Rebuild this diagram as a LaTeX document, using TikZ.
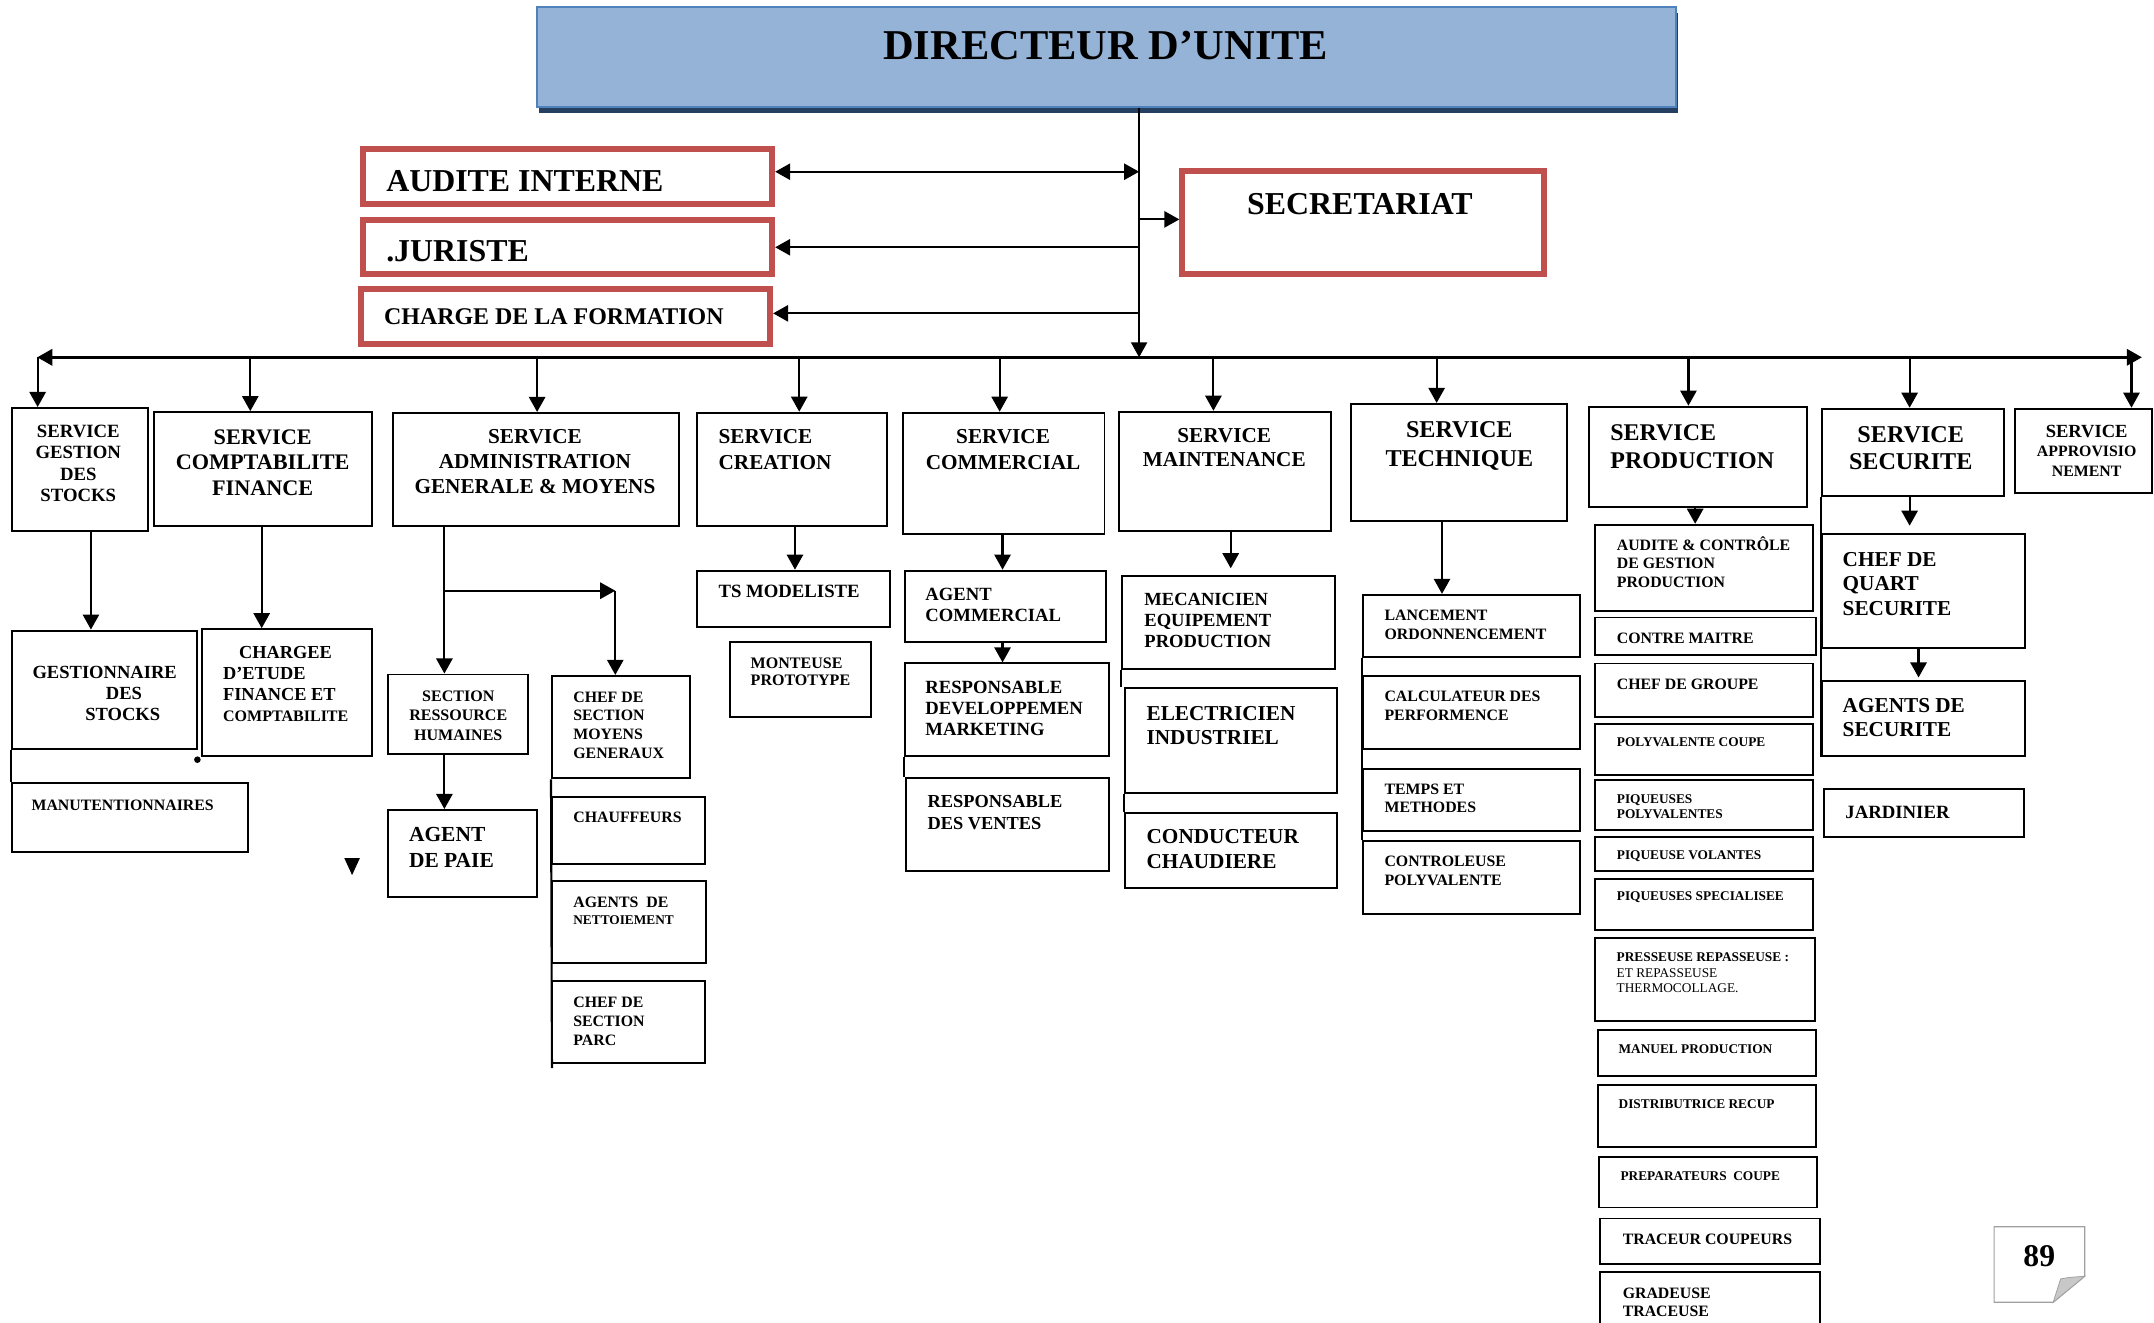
\documentclass[tikz,border=0pt]{standalone}
\usepackage{fontspec}
\setmainfont{Liberation Serif}
\usetikzlibrary{arrows.meta,fit,shadows}
\definecolor{dirblue}{HTML}{95B3D7}
\definecolor{dirline}{HTML}{4F81BD}
\definecolor{dirshade}{HTML}{243F60}
\definecolor{boxred}{HTML}{C0504D}
\definecolor{pagegray}{HTML}{A0A0A0}
\definecolor{foldgray}{HTML}{C8C8C8}

\begin{document}
\begin{tikzpicture}[x=0.025cm, y=-0.025cm,
		box/.style={draw, line width=1pt, inner sep=0pt, fit={#1}},
		redbox/.style={draw=boxred, line width=3.1pt, inner sep=0pt, fit={#1}},
		dirbox/.style={draw=dirline, fill=dirblue, line width=1pt, inner sep=0pt, fit={#1},
			drop shadow={shadow xshift=1.1pt, shadow yshift=-3pt, fill=dirshade, opacity=1}},
		nw/.style={anchor=north west, align=left},
		nn/.style={anchor=north, align=center},
		ww/.style={anchor=west},
		fs/.style 2 args={font=\bfseries\fontsize{#1}{#2}\selectfont},
		ln/.style={line width=1.1pt},
		arr/.style={line width=1.1pt},
		bus/.style={line width=1.4pt},
		>={Triangle[length=7.8pt,width=8.4pt]}]
		\tikzstyle{every node}+=[inner sep=0pt]
		\useasboundingbox (0,0) rectangle (1568,963);
		\node[dirbox={(390.7,5.3) (1220,77.7)}] (dir) {};
		\node[fs={22}{26}] (dir-t) at (805,33.5) {DIRECTEUR D’UNITE};
		\node[redbox={(264.2,108.2) (562.1,148.3)}] (audint) {};
		\node[ww, fs={16.5}{19}] (audint-t) at (280.9,132) {AUDITE INTERNE};
		\node[redbox={(264.2,159.9) (562.1,199.2)}] (jur) {};
		\node[ww, fs={16.5}{19}] (jur-t) at (280.9,183) {.JURISTE};
		\node[redbox={(262.6,210.4) (560.6,250.2)}] (form) {};
		\node[ww, fs={12.4}{15}] (form-t) at (279.3,230.5) {CHARGE DE LA FORMATION};
		\node[redbox={(860.7,124.7) (1124,199.2)}] (secr) {};
		\node[fs={16.5}{19}] (secr-t) at (990,148.5) {SECRETARIAT};
		\node[box={(8.4,297) (107.6,386.5)}] (sgs) {};
		\node[nn, fs={9.7}{11.1}] (sgs-t) at (57,309) {SERVICE\\GESTION\\DES\\STOCKS};
		\node[box={(112,300) (271,383)}] (scf) {};
		\node[nn, fs={11.5}{13.1}] (scf-t) at (191.2,312.7) {SERVICE\\COMPTABILITE\\FINANCE};
		\node[box={(286,300.6) (494,383)}] (sagm) {};
		\node[nn, fs={11}{12.9}] (sagm-t) at (389.4,312.2) {SERVICE\\ADMINISTRATION\\GENERALE \& MOYENS};
		\node[box={(507.6,300.4) (646,382.7)}] (screa) {};
		\node[nw, fs={11}{13.4}] (screa-t) at (522.8,312.2) {SERVICE\\CREATION};
		\node[box={(657,300.4) (804,389)}] (scom) {};
		\node[nn, fs={11}{13.4}] (scom-t) at (730.2,312.2) {SERVICE\\COMMERCIAL};
		\node[box={(814.5,299.7) (968.6,386.3)}] (smai) {};
		\node[nn, fs={11}{12.8}] (smai-t) at (891.2,311.4) {SERVICE\\MAINTENANCE};
		\node[box={(983.5,294) (1141,379)}] (stech) {};
		\node[nn, fs={12.5}{14.9}] (stech-t) at (1062.3,306.6) {SERVICE\\TECHNIQUE};
		\node[box={(1157,296) (1315.5,369)}] (sprod) {};
		\node[nw, fs={12.4}{14.4}] (sprod-t) at (1172,308.9) {SERVICE\\PRODUCTION};
		\node[box={(1326,297.5) (1459,361)}] (ssec) {};
		\node[nn, fs={12.5}{14.2}] (ssec-t) at (1390.9,310.2) {SERVICE\\SECURITE};
		\node[box={(1466.6,297.5) (1566.5,359)}] (sappro) {};
		\node[nn, fs={8.2}{10.2}] (sappro-t) at (1519,308.9) {{\fontsize{9.6}{10.2}\selectfont SERVICE}\\APPROVISIO\\NEMENT};
		\node[box={(8.4,459) (143.6,545)}] (gest) {};
		\node[nw, fs={9.6}{10.9}] (gest-t) at (23.4,484.9) {GESTIONNAIRE\\\hspace*{38pt}DES\\\hspace*{27.3pt}STOCKS};
		\node[box={(147,458) (271,550)}] (chg) {};
		\node[nw, fs={9.5}{10.8}] (chg-t) at (162.1,470.2) {\hspace*{8.3pt}CHARGEE\\D’ETUDE\\FINANCE ET\\{\fontsize{8.3}{10.8}\selectfont COMPTABILITE}};
		\node[box={(8.4,570) (180.5,620)}] (manut) {};
		\node[ww, fs={8.2}{9.8}] (manut-t) at (22.7,586) {MANUTENTIONNAIRES};
		\node[circle, fill, minimum size=0.12cm] (dot) at (143.7,553) {};
		\node[box={(282.4,491) (384.3,549)}] (srh) {};
		\node[nn, fs={8.3}{9.95}] (srh-t) at (333.6,502.7) {SECTION\\RESSOURCE\\HUMAINES};
		\node[box={(282.4,589.6) (391,653.2)}] (paie) {};
		\node[nw, fs={11.1}{13.2}] (paie-t) at (297.5,602.1) {AGENT\\DE PAIE};
		\node[box={(401.8,492) (502,566.6)}] (csmg) {};
		\node[nw, fs={8.2}{9.8}] (csmg-t) at (417.1,503.1) {CHEF DE\\SECTION\\MOYENS\\GENERAUX};
		\node[box={(401.8,580) (513,629)}] (chauf) {};
		\node[ww, fs={8.2}{9.8}] (chauf-t) at (417.1,595.1) {CHAUFFEURS};
		\node[box={(401.8,641) (514,700.8)}] (nett) {};
		\node[nw, fs={8.2}{8.9}] (nett-t) at (417.1,652.9) {AGENTS~~DE\\{\fontsize{6.9}{8.9}\selectfont NETTOIEMENT}};
		\node[box={(401.8,714) (513,774)}] (parc) {};
		\node[nw, fs={8.2}{9.7}] (parc-t) at (417.1,725.7) {CHEF DE\\SECTION\\PARC};
		\node[box={(507.6,415.4) (648,456.2)}] (tsmod) {};
		\node[ww, fs={9.7}{11}] (tsmod-t) at (522.8,430.7) {TS MODELISTE};
		\node[box={(531.3,467) (634,522)}] (mont) {};
		\node[nw, fs={8.3}{9.1}] (mont-t) at (546.2,478.5) {MONTEUSE\\PROTOTYPE};
		\node[box={(658.5,415.4) (805.4,467.6)}] (agcom) {};
		\node[nw, fs={9.65}{11.1}] (agcom-t) at (673.4,427.5) {AGENT\\COMMERCIAL};
		\node[box={(658.5,482.9) (807,550.1)}] (rdev) {};
		\node[nw, fs={9.65}{11.1}] (rdev-t) at (673.4,495.2) {RESPONSABLE\\DEVELOPPEMEN\\MARKETING};
		\node[box={(659.8,566.6) (807,634)}] (rvent) {};
		\node[nw, fs={9.5}{11.2}] (rvent-t) at (675,578.9) {RESPONSABLE\\DES VENTES};
		\node[box={(817,419.3) (971.7,486.8)}] (meca) {};
		\node[nw, fs={9.6}{10.8}] (meca-t) at (832.8,431.8) {MECANICIEN\\EQUIPEMENT\\PRODUCTION};
		\node[box={(818.6,501) (973.3,577.5)}] (elec) {};
		\node[nw, fs={11}{12.6}] (elec-t) at (834.4,513.8) {ELECTRICIEN\\INDUSTRIEL};
		\node[box={(818.6,591.6) (973.3,646.6)}] (cond) {};
		\node[nw, fs={11}{12.7}] (cond-t) at (834.4,603.7) {CONDUCTEUR\\CHAUDIERE};
		\node[box={(992,433) (1150,478)}] (lanc) {};
		\node[nw, fs={8.2}{9.8}] (lanc-t) at (1007.6,443.8) {LANCEMENT\\ORDONNENCEMENT};
		\node[box={(992,492) (1150,545)}] (calc) {};
		\node[nw, fs={8.2}{9.8}] (calc-t) at (1007.6,502.8) {CALCULATEUR DES\\PERFORMENCE};
		\node[box={(992,559.5) (1150,604.7)}] (temps) {};
		\node[nw, fs={8.2}{9.6}] (temps-t) at (1007.6,570.1) {TEMPS ET\\METHODES};
		\node[box={(992,612) (1150,665)}] (ctrl) {};
		\node[nw, fs={8.2}{9.7}] (ctrl-t) at (1007.6,623.2) {CONTROLEUSE\\POLYVALENTE};
		\node[box={(1161,382) (1320,445)}] (audc) {};
		\node[nw, fs={8.2}{9.45}] (audc-t) at (1176.7,390.5) {AUDITE \& CONTRÔLE\\DE GESTION\\PRODUCTION};
		\node[box={(1161,449.5) (1322,477)}] (cmai) {};
		\node[ww, fs={8.2}{9.8}] (cmai-t) at (1176.7,464.5) {CONTRE MAITRE};
		\node[box={(1161,483) (1320,522)}] (cgrp) {};
		\node[ww, fs={8.2}{9.8}] (cgrp-t) at (1176.7,497.8) {CHEF DE GROUPE};
		\node[box={(1161,527) (1320,564)}] (pcoupe) {};
		\node[ww, fs={6.9}{8.1}] (pcoupe-t) at (1176.7,540.5) {POLYVALENTE COUPE};
		\node[box={(1161,568) (1320,604)}] (ppoly) {};
		\node[nw, fs={6.9}{8.1}] (ppoly-t) at (1176.7,577.9) {PIQUEUSES\\POLYVALENTES};
		\node[box={(1161,609) (1320,634)}] (pvol) {};
		\node[ww, fs={6.9}{8.1}] (pvol-t) at (1176.7,622.9) {PIQUEUSE VOLANTES};
		\node[box={(1161,640) (1320,677)}] (pspec) {};
		\node[ww, fs={6.9}{8.1}] (pspec-t) at (1176.7,653.4) {PIQUEUSES SPECIALISEE};
		\node[box={(1161,683) (1321,743)}] (press) {};
		\node[nw, fs={6.9}{8.1}] (press-t) at (1176.6,693.2) {PRESSEUSE REPASSEUSE :\\{\mdseries ET REPASSEUSE}\\{\mdseries THERMOCOLLAGE.}};
		\node[box={(1163,750) (1322,783)}] (manuel) {};
		\node[ww, fs={6.9}{8.1}] (manuel-t) at (1178,764) {MANUEL PRODUCTION};
		\node[box={(1163,790) (1322,835)}] (distr) {};
		\node[ww, fs={6.9}{8.1}] (distr-t) at (1178,803.5) {DISTRIBUTRICE RECUP};
		\node[box={(1164,842) (1323,879)}] (prep) {};
		\node[ww, fs={6.9}{8.1}] (prep-t) at (1179.4,856.2) {PREPARATEURS~~COUPE};
		\node[box={(1165,887) (1325,920)}] (trac) {};
		\node[ww, fs={8.2}{9.8}] (trac-t) at (1181,902.4) {TRACEUR COUPEURS};
		\node[box={(1165,926) (1325,968)}] (grad) {};
		\node[nw, fs={8.2}{9.2}] (grad-t) at (1181,937.5) {GRADEUSE\\TRACEUSE};
		\node[box={(1326,389) (1474,472)}] (cquart) {};
		\node[nw, fs={11}{12.7}] (cquart-t) at (1341.1,401.5) {CHEF DE\\QUART\\SECURITE};
		\node[box={(1326,496) (1474,550)}] (agsec) {};
		\node[nw, fs={11}{12.5}] (agsec-t) at (1341.1,508.1) {AGENTS DE\\SECURITE};
		\node[box={(1328,574) (1473.5,609)}] (jard) {};
		\node[ww, fs={9.7}{11}] (jard-t) at (1343.1,591.2) {JARDINIER};
		\draw[pagegray, line width=0.6pt] (1451.6,893) -- (1517.6,893) -- (1517.6,929) -- (1494.6,948) -- (1451.6,948) -- cycle;
		\filldraw[fill=foldgray, draw=pagegray, line width=0.4pt] (1517.6,929) .. controls (1505,930) .. (1500,931) -- (1494.6,948) -- cycle;
		\node[fs={16.4}{19}] (pagenum) at (1484.5,914.2) {89};
		\fill (250.6,624.6) -- (262,624.6) -- (256.3,637) -- cycle;
		\coordinate (m0) at (829.2,260.1);
		\coordinate (ra) at (829.2,125);
		\coordinate (rs) at (829.2,159.7);
		\coordinate (rj) at (829.2,180);
		\coordinate (rf) at (829.2,228.1);
		\coordinate (busL) at (27.1,260.1);
		\coordinate (busR) at (1559.2,260.1);
		\draw[line width=0.8pt, ->] (dir.south -| m0) -- (m0);
		\draw[arr, <->] (ra -| audint.east) -- (ra);
		\draw[arr, ->] (rj) -- (rj -| jur.east);
		\draw[arr, ->] (rf) -- (rf -| form.east);
		\draw[arr, ->] (rs) -- (rs -| secr.west);
		\draw[bus, <->] (busL) -- (busR);
		\coordinate (dsgs) at (27.4,260.1);
		\coordinate (dscf) at (182.2,260.1);
		\coordinate (dsagm) at (391,260.1);
		\coordinate (dscrea) at (581.8,260.1);
		\coordinate (dscom) at (727.7,260.1);
		\coordinate (dsmai) at (883.3,260.1);
		\coordinate (dstech) at (1045.8,260.1);
		\coordinate (dsprod) at (1229.1,260.1);
		\coordinate (dssec) at (1390.1,260.1);
		\coordinate (dsappro) at (1551.6,260.1);
		\draw[arr, ->] (dsgs) -- (dsgs |- sgs.north);
		\draw[arr, ->] (dscf) -- (dscf |- scf.north);
		\draw[arr, ->] (dsagm) -- (dsagm |- sagm.north);
		\draw[arr, ->] (dscrea) -- (dscrea |- screa.north);
		\draw[arr, ->] (dscom) -- (dscom |- scom.north);
		\draw[arr, ->] (dsmai) -- (dsmai |- smai.north);
		\draw[arr, ->] (dstech) -- (dstech |- stech.north);
		\draw[arr, ->] (dsprod) -- (dsprod |- sprod.north);
		\draw[arr, ->] (dssec) -- (dssec |- ssec.north);
		\draw[arr, ->] (dsappro) -- (dsappro |- sappro.north);
		\coordinate (kg) at (66.2,0);
		\coordinate (kc) at (190.5,0);
		\coordinate (ka) at (323.5,430);
		\coordinate (kb) at (447.9,430);
		\coordinate (kcr) at (578.7,0);
		\coordinate (kco) at (729.8,0);
		\coordinate (kma) at (895.9,0);
		\coordinate (kte) at (1049.7,0);
		\coordinate (kpr) at (1234,0);
		\coordinate (kse) at (1390.1,0);
		\coordinate (kse2) at (1396.6,0);
		\coordinate (csmg-end) at (401.8,777.5);
		\draw[arr, ->] (sgs.south -| kg) -- (gest.north -| kg);
		\draw[ln] (gest.south west) -- (manut.north west);
		\draw[arr, ->] (scf.south -| kc) -- (chg.north -| kc);
		\draw[arr, ->] (sagm.south -| ka) -- (srh.north -| ka);
		\draw[arr, ->] (ka) -- (kb);
		\draw[arr, ->] (kb) -- (kb |- csmg.north);
		\draw[arr, ->] (srh.south -| ka) -- (paie.north -| ka);
		\draw[ln] (csmg.south west) -- (csmg-end);
		\draw[arr, ->] (screa.south -| kcr) -- (tsmod.north -| kcr);
		\draw[arr, ->] (scom.south -| kco) -- (agcom.north -| kco);
		\draw[arr, ->] (agcom.south -| kco) -- (rdev.north -| kco);
		\draw[ln] (rdev.south west) -- (rdev.south west |- rvent.north);
		\draw[arr, ->, shorten >=3.5pt] (smai.south -| kma) -- (meca.north -| kma);
		\draw[ln] (meca.south west) -- (meca.south west |- elec.north);
		\draw[ln] (elec.south west) -- (elec.south west |- cond.north);
		\draw[arr, ->] (stech.south -| kte) -- (lanc.north -| kte);
		\draw[ln] (lanc.south west) -- (ctrl.north west);
		\draw[arr, ->] (sprod.south -| kpr) -- (audc.north -| kpr);
		\draw[arr, ->, shorten >=4pt] (ssec.south -| kse) -- (cquart.north -| kse);
		\draw[arr, ->, shorten >=1.5pt] (cquart.south -| kse2) -- (agsec.north -| kse2);
		\draw[ln] (ssec.south west) -- (agsec.south west);
	\end{tikzpicture}
\end{document}
